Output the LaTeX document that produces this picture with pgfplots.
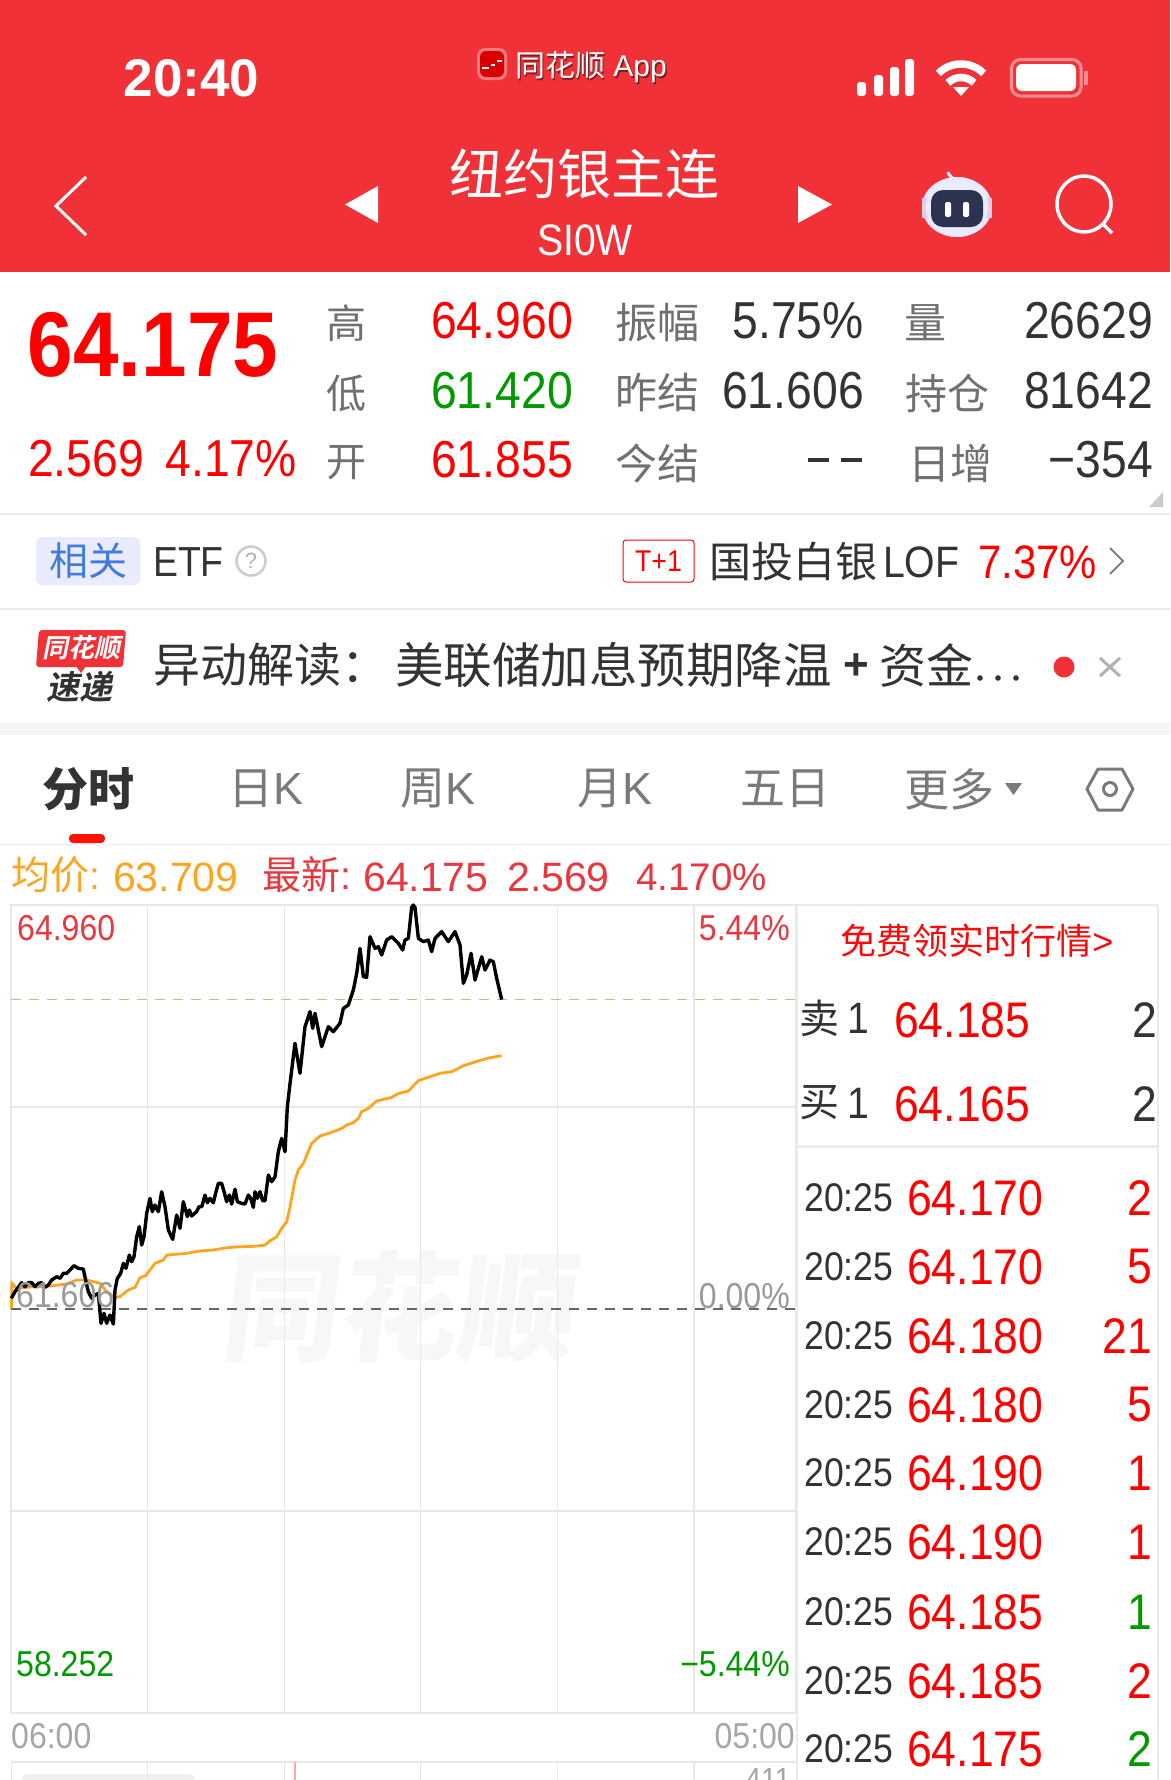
\documentclass[border=0pt]{standalone}
\usepackage{pgfplots}
\pgfplotsset{compat=1.18}
\usepackage{pgfplotstable}
\usepackage{fontspec}
\setmainfont{Liberation Sans}
\newfontfamily\din[FakeStretch=0.89]{Liberation Sans}
\newfontfamily\cjk{Noto Sans CJK SC}
\newfontfamily\cjkb[FakeSlant=0.2]{Noto Sans CJK SC Bold}
\definecolor{hdr}{HTML}{F03238}
\definecolor{rd}{HTML}{FF0000}
\definecolor{grn}{HTML}{009900}
\definecolor{lab}{HTML}{707070}
\definecolor{drk}{HTML}{333333}
\definecolor{sep}{HTML}{EBEBEB}
\definecolor{gridc}{HTML}{E8E8E8}
\definecolor{org}{HTML}{FFA41F}
\definecolor{pl}{HTML}{E8373F}
\definecolor{tabg}{HTML}{7A7A7A}
\definecolor{navy}{HTML}{2B3350}
\newcommand{\T}[6]{\node[anchor=#3,inner sep=0pt,text=#5,font=\fontsize{#4}{#4}\selectfont] at (#1,-#2) {#6};}
\pgfplotstableread{
x y
0.05 61.695
6.5 61.750
12.4 61.786
18.2 61.825
24.1 61.791
30.0 61.825
35.8 61.825
41.7 61.791
47.5 61.819
53.4 61.825
59.2 61.786
65.1 61.805
71.0 61.847
79.8 61.874
85.6 61.861
91.5 61.902
97.3 61.902
103.2 61.930
110.2 61.966
117.8 61.944
126.6 61.938
131.3 61.833
135.4 61.750
141.3 61.695
147.1 61.722
153.0 61.736
157.7 61.487
163.0 61.570
167.6 61.487
173.5 61.556
179.4 61.481
182.3 61.764
186.4 61.861
192.3 61.902
197.0 61.985
201.6 61.944
207.5 62.054
211.6 61.999
215.7 62.040
220.4 62.206
225.1 62.290
229.2 62.137
233.3 62.206
238.0 62.400
243.8 62.525
247.9 62.414
252.6 62.469
258.5 62.414
264.3 62.580
270.2 62.455
276.1 62.262
283.7 62.184
290.7 62.386
296.6 62.276
302.4 62.497
309.5 62.373
313.0 62.428
317.1 62.378
325.9 62.415
330.0 62.456
335.0 62.456
340.5 62.552
344.6 62.488
349.3 62.525
355.2 62.488
359.9 62.580
364.0 62.649
369.8 62.649
374.0 62.580
378.6 62.497
383.3 62.552
387.4 62.477
393.3 62.600
397.4 62.497
405.0 62.483
410.8 62.477
416.7 62.552
420.8 62.525
425.5 62.450
428.4 62.580
432.5 62.525
437.2 62.580
441.9 62.505
446.0 62.505
451.9 62.718
457.7 62.663
463.6 62.704
469.4 62.912
475.3 63.023
481.2 62.912
485.3 63.286
490.0 63.479
498.7 63.812
507.5 63.563
516.3 63.950
525.1 64.075
529.8 63.936
533.9 64.061
545.6 63.784
557.3 63.950
566.1 63.908
577.8 63.978
583.7 64.102
592.5 64.130
601.3 64.254
607.2 64.393
613.0 64.600
618.9 64.365
624.7 64.360
630.6 64.697
639.4 64.600
645.2 64.614
651.1 64.545
659.9 64.669
668.7 64.697
680.4 64.642
688.0 64.586
692.1 64.669
698.0 64.683
703.8 64.940
706.5 64.960
709.7 64.940
715.6 64.683
724.4 64.656
733.1 64.669
739.0 64.573
744.9 64.683
756.6 64.739
768.3 64.656
780.0 64.739
788.8 64.628
794.7 64.310
800.5 64.379
808.2 64.559
815.2 64.337
826.9 64.531
832.8 64.420
841.5 64.503
847.4 64.489
853.3 64.351
862.1 64.175
}\pricedata
\pgfplotstableread{
x y
0.05 61.611
1.2 61.819
9.4 61.778
38.7 61.791
68.0 61.797
97.3 61.814
115.0 61.847
132.5 61.847
155.9 61.819
167.6 61.750
182.3 61.703
191.1 61.709
205.7 61.764
217.5 61.786
226.2 61.866
236.2 61.883
252.6 61.985
267.3 62.013
273.1 62.054
308.3 62.068
331.7 62.088
355.2 62.096
378.6 62.115
402.0 62.123
425.5 62.126
446.0 62.137
454.8 62.173
466.5 62.206
475.3 62.276
484.1 62.331
490.0 62.455
498.7 62.677
504.6 62.760
513.4 62.815
528.0 62.981
542.7 63.042
566.1 63.078
580.8 63.106
589.6 63.134
601.3 63.153
610.1 63.189
615.9 63.244
627.7 63.272
642.3 63.333
668.7 63.363
680.4 63.396
698.0 63.416
715.6 63.502
753.7 63.563
774.2 63.576
794.7 63.626
824.0 63.670
841.5 63.692
862.1 63.709
}\avgdata
\begin{document}
\begin{tikzpicture}[x=1pt,y=1pt]
\useasboundingbox (0,0) rectangle (1170,-1780);
\fill[white] (0,0) rectangle (1170,-1780);
% header
\fill[hdr] (0,0) rectangle (1170,-272);
\T{191.5}{78}{center}{53}{white}{\bfseries 20:40}
\fill[white!35!hdr,rounded corners=8pt] (477,-48) rectangle (507,-80);
\fill[red!85!black,rounded corners=6pt] (480,-51) rectangle (504,-77);
\fill[white] (482,-67) rectangle (489,-69);\fill[white] (491,-64) rectangle (495,-66);\fill[white] (497,-60) rectangle (502,-62);
\T{592.5}{69}{center}{30}{black!45!hdr}{{\cjk 同花顺} App}
\T{591}{67.5}{center}{30}{white}{{\cjk 同花顺} App}
\fill[white,rounded corners=3pt] (857,-82) rectangle (866,-96);
\fill[white,rounded corners=3pt] (874,-75) rectangle (883,-96);
\fill[white,rounded corners=3pt] (890,-67) rectangle (899,-96);
\fill[white,rounded corners=3pt] (905,-59) rectangle (914,-96);
\draw[white,line width=7.5pt] (961,-96) ++(45:32) arc (45:135:32);
\draw[white,line width=7.5pt] (961,-96) ++(45:18.5) arc (45:135:18.5);
\fill[white] (961,-96) -- (953,-87) -- (969,-87) -- cycle;
\draw[white!45!hdr,line width=3pt,rounded corners=9pt] (1011.5,-59.5) rectangle (1081,-96);
\fill[white,rounded corners=6pt] (1016,-64) rectangle (1076,-91);
\fill[white!45!hdr] (1084,-71) rectangle (1088,-85);
\T{584}{174}{center}{54}{white}{\cjk 纽约银主连}
\T{585}{240}{center}{44}{white}{\din SI0W}
\draw[white,line width=3pt] (86,-177) -- (56,-206) -- (86,-235);
\fill[white] (378,-186) -- (345,-204.5) -- (378,-223) -- cycle;
\fill[white] (798,-186) -- (832,-204.5) -- (798,-223) -- cycle;
\draw[white!90!blue,line width=3pt] (953,-180) .. controls (953,-176) and (948,-176) .. (948,-172);
\fill[white!90!blue] (957,-207) ellipse (35 and 30);
\fill[white!80!violet] (922,-198) rectangle (992,-218);
\fill[white!92!blue] (957,-207) ellipse (31 and 30);
\fill[navy,rounded corners=12pt] (931,-190) rectangle (983,-227);
\fill[white,rounded corners=2pt] (945,-202) rectangle (951,-217);
\fill[white,rounded corners=2pt] (963,-202) rectangle (969,-217);
\draw[white,line width=3.5pt] (1084,-204) ellipse (27 and 28);
\draw[white,line width=3.5pt] (1103,-224) -- (1112,-233);
% quote panel
\T{153}{345}{center}{92}{rd}{\din\bfseries 64.175}
\T{346}{323}{center}{40}{lab}{\cjk 高}
\T{346}{393}{center}{40}{lab}{\cjk 低}
\T{346}{463}{center}{40}{lab}{\cjk 开}
\T{573}{321}{east}{52}{rd}{\din 64.960}
\T{573}{391}{east}{52}{grn}{\din 61.420}
\T{573}{460}{east}{52}{rd}{\din 61.855}
\T{28}{459}{west}{52}{rd}{\din 2.569}
\T{297}{459}{east}{52}{rd}{\din 4.17\%}
\T{657}{323}{center}{42}{lab}{\cjk 振幅}
\T{657}{393}{center}{42}{lab}{\cjk 昨结}
\T{657}{463}{center}{42}{lab}{\cjk 今结}
\T{864}{321}{east}{52}{drk}{\din 5.75\%}
\T{864}{391}{east}{52}{drk}{\din 61.606}
\fill[drk] (808,-458) rectangle (829,-462);
\fill[drk] (841,-458) rectangle (862,-462);
\T{925}{323}{center}{42}{lab}{\cjk 量}
\T{947}{393}{center}{42}{lab}{\cjk 持仓}
\T{950}{463}{center}{42}{lab}{\cjk 日增}
\T{1153}{321}{east}{52}{drk}{\din 26629}
\T{1153}{391}{east}{52}{drk}{\din 81642}
\T{1153}{460}{east}{52}{drk}{\din −354}
\fill[gray!40] (1163,-492) -- (1149,-507) -- (1163,-507) -- cycle;
\fill[sep] (0,-513) rectangle (1170,-515);
\fill[sep] (0,-608) rectangle (1170,-610);
\fill[black!4] (0,-723) rectangle (1170,-735);
\fill[sep] (0,-843.5) rectangle (1170,-845);
% ETF row
\fill[blue!8,rounded corners=6pt] (36,-537) rectangle (140,-585);
\T{88}{561}{center}{39}{blue!60!cyan!80!black!75!white}{\cjk 相关}
\T{153}{562}{west}{42}{drk}{\din ETF}
\draw[gray!40,line width=2.5pt] (251,-561) circle (14.5);
\T{251}{561}{center}{22}{gray!60}{?}
\draw[rd,line width=1pt,rounded corners=3pt] (623,-540) rectangle (694,-582);
\T{658.5}{561}{center}{30}{rd}{\din T+1}
\T{709}{561}{west}{42}{drk}{\cjk 国投白银}
\T{883}{562}{west}{44}{drk}{\din LOF}
\T{1097}{562}{east}{47}{rd}{\din 7.37\%}
\draw[gray,line width=2pt] (1110,-548) -- (1123,-561) -- (1110,-574);
% news row
\fill[hdr,rounded corners=3pt] (39,-630) -- (126,-630) -- (123,-667) -- (36,-667) -- cycle;
\fill[hdr] (76,-666) -- (86,-666) -- (81,-673) -- cycle;
\T{81}{648}{center}{26}{white}{\cjkb 同花顺}
\T{79}{687}{center}{33}{drk}{\cjkb 速递}
\T{153}{665}{west}{47}{drk}{\cjk 异动解读：}
\T{395}{665}{west}{48.5}{drk}{\cjk 美联储加息预期降温}
\T{856}{667}{center}{44}{drk}{\bfseries +}
\T{879}{665}{west}{47}{drk}{\cjk 资金}
\fill[drk] (980,-678) circle (2.8);\fill[drk] (998,-678) circle (2.8);\fill[drk] (1016,-678) circle (2.8);
\fill[hdr] (1064,-667) circle (10.5);
\draw[gray!60,line width=3pt] (1100,-658) -- (1120,-676);
\draw[gray!60,line width=3pt] (1120,-658) -- (1100,-676);
% tabs
\T{88}{789}{center}{46}{drk}{\cjk\bfseries 分时}
\T{266}{789}{center}{45}{tabg}{{\cjk 日}K}
\T{438}{789}{center}{45}{tabg}{{\cjk 周}K}
\T{615}{789}{center}{45}{tabg}{{\cjk 月}K}
\T{785}{789}{center}{45}{tabg}{\cjk 五日}
\T{949}{789}{center}{45}{tabg}{\cjk 更多}
\fill[tabg] (1005,-783) -- (1022,-783) -- (1013.5,-795) -- cycle;
\draw[tabg,line width=3pt,line join=round] (1098,-769) -- (1122,-769) -- (1133,-789) -- (1122,-810) -- (1098,-810) -- (1087,-789) -- cycle;
\draw[tabg,line width=3pt] (1110,-789) circle (6.5);
\fill[red!85!orange,rounded corners=4pt] (69,-834) rectangle (105,-843);
% status row
\T{11}{875}{west}{39}{org}{{\cjk 均价}:}
\T{113}{877}{west}{41}{org}{63.709}
\T{262}{875}{west}{39}{pl}{{\cjk 最新}:}
\T{363}{877}{west}{41}{pl}{64.175}
\T{507}{877}{west}{41}{pl}{2.569}
\T{636}{877}{west}{38.5}{pl}{4.170\%}
% watermark
\node[inner sep=0pt,text=black!3,font=\fontsize{118}{118}\selectfont\cjk\bfseries,xslant=0.12,transform shape] at (402,-1307) {同花顺};
% main axis
\begin{axis}[name=main,at={(11.3pt,-1713pt)},anchor=south west,scale only axis,width=785pt,height=808pt,
 xmin=0,xmax=1380,ymin=58.252,ymax=64.960,
 xtick={240,480,720,960,1200},ytick={59.929,63.283},xticklabels={},yticklabels={},
 major tick length=0pt,grid=major,grid style={draw=gridc,line width=1.2pt},
 axis line style={draw=gridc,line width=2pt},clip=false]
\addplot[draw=black!15!orange!50!white!90!gray,line width=1.2pt,dash pattern=on 10pt off 8pt,forget plot] coordinates {(0,64.175)(1380,64.175)};
\addplot[draw=black!60,line width=1.2pt,dash pattern=on 10pt off 8pt,forget plot] coordinates {(0,61.606)(1380,61.606)};
\addplot[draw=org,line width=2.8pt,forget plot] table[x=x,y=y] {\avgdata};
\addplot[draw=black,line width=3.4pt,line join=round,forget plot] table[x=x,y=y] {\pricedata};
\end{axis}
% plot labels
\T{17}{928}{west}{36}{pl}{\din 64.960}
\T{790}{928}{east}{36}{pl}{\din 5.44\%}
\T{16}{1295}{west}{36}{gray!80}{\din 61.606}
\T{790}{1296}{east}{36}{gray!80}{\din 0.00\%}
\T{16}{1664}{west}{36}{grn}{\din 58.252}
\T{790}{1664}{east}{36}{grn}{\din −5.44\%}
\T{11}{1736}{west}{36}{gray!70}{\din 06:00}
\T{795}{1736}{east}{36}{gray!70}{\din 05:00}
% volume panel
\fill[black!6,rounded corners=6pt] (22,-1774) rectangle (195,-1790);
\begin{axis}[at={(11.3pt,-1780pt)},anchor=south west,scale only axis,width=785pt,height=18pt,
 xmin=0,xmax=1380,ymin=0,ymax=411,
 axis x line=top,axis y line=left,axis line style={-,draw=gridc,line width=1.5pt},
 xtick={240,480,720,960,1200,1380},ytick=\empty,xticklabels={},major tick length=0pt,
 grid=major,grid style={draw=gridc,line width=1.2pt}]
\addplot[draw=red!35,line width=1.5pt,forget plot] coordinates {(499,0)(499,411)};
\end{axis}
\T{791}{1779}{east}{32}{gray!70}{\din 411}
% right panel
\draw[sep,line width=2pt] (797,-905) -- (1158,-905);
\draw[sep,line width=1.5pt] (797,-905) -- (797,-1780);
\draw[sep,line width=1.5pt] (1158,-905) -- (1158,-1780);
\fill[sep] (797,-1145) rectangle (1158,-1148);
\T{977}{941}{center}{36}{red!80!hdr}{{\cjk 免费领实时行情}>}
\T{799}{1018}{west}{40}{drk}{\cjk 卖}
\T{858}{1018}{center}{44}{drk}{\din 1}
\T{894}{1020}{west}{50}{rd}{\din 64.185}
\T{1157}{1020}{east}{50}{drk}{\din 2}
\T{799}{1103}{west}{40}{drk}{\cjk 买}
\T{858}{1103}{center}{44}{drk}{\din 1}
\T{894}{1104}{west}{50}{rd}{\din 64.165}
\T{1157}{1104}{east}{50}{drk}{\din 2}
\newcommand{\Row}[4]{\T{804}{#1}{west}{40}{drk}{\din 20:25}\T{907}{#1}{west}{50}{rd}{\din #2}\T{1152}{#1}{east}{50}{#4}{\din #3}}
\Row{1198}{64.170}{2}{rd}
\Row{1267}{64.170}{5}{rd}
\Row{1336}{64.180}{21}{rd}
\Row{1405}{64.180}{5}{rd}
\Row{1473}{64.190}{1}{rd}
\Row{1542}{64.190}{1}{rd}
\Row{1612}{64.185}{1}{grn}
\Row{1681}{64.185}{2}{rd}
\Row{1749}{64.175}{2}{grn}
\end{tikzpicture}
\end{document}
